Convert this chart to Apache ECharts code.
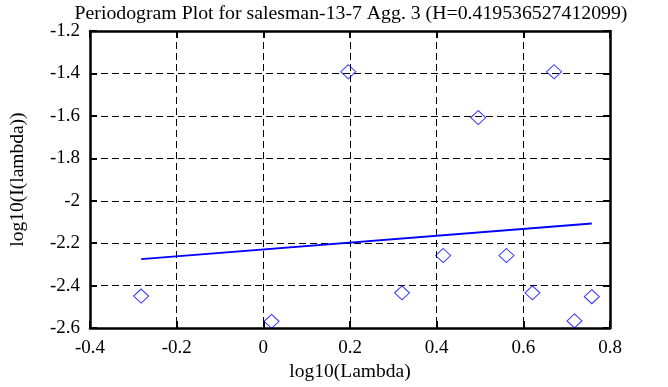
<!DOCTYPE html>
<html>
<head>
<meta charset="utf-8">
<script src="https://cdn.jsdelivr.net/npm/echarts@6/dist/echarts.min.js"></script>
<style>
html,body{margin:0;padding:0;background:#fff;}
#chart{width:668px;height:387px;}
</style>
</head>
<body>
<div id="chart"></div>
<script>
var titleText = 'Periodogram Plot for salesman-13-7 Agg. 3 (H=0.419536527412099)';
var xName = 'log10(Lambda)';
var yName = 'log10(I(lambda))';
var lambdaX = [-0.282, 0.019, 0.196, 0.320, 0.415, 0.496, 0.561, 0.621, 0.671, 0.718, 0.758];
var periodY = [-2.449, -2.568, -1.392, -2.434, -2.258, -1.608, -2.258, -2.434, -1.392, -2.566, -2.452];
var fitX = [-0.282, 0.758];
var fitY = [-2.275, -2.107];

var FONT = '"Liberation Serif", "DejaVu Serif", serif';
var chart = echarts.init(document.getElementById('chart'), null, {renderer: 'canvas'});

function axisCommon(showLabel, showGrid) {
  return {
    axisLine: {show: true, onZero: false, lineStyle: {color: '#000', width: 2.5}},
    axisTick: {show: true, inside: true, length: 7, lineStyle: {color: '#000', width: 2}},
    axisLabel: {show: showLabel, color: '#000', fontFamily: FONT, fontSize: 19, margin: 10},
    splitLine: {show: showGrid, lineStyle: {color: '#000', width: 1, type: [7, 4]}}
  };
}

var xBottom = Object.assign({type: 'value', position: 'bottom', min: -0.4, max: 0.8, interval: 0.2,
  name: xName, nameLocation: 'middle', nameGap: 32,
  nameTextStyle: {color: '#000', fontFamily: FONT, fontSize: 19.5}}, axisCommon(true, true));
var xTop = Object.assign({type: 'value', position: 'top', min: -0.4, max: 0.8, interval: 0.2}, axisCommon(false, false));
var yLeft = Object.assign({type: 'value', position: 'left', min: -2.6, max: -1.2, interval: 0.2,
  name: yName, nameLocation: 'middle', nameGap: 62,
  nameTextStyle: {color: '#000', fontFamily: FONT, fontSize: 19.5}}, axisCommon(true, true));
var yRight = Object.assign({type: 'value', position: 'right', min: -2.6, max: -1.2, interval: 0.2}, axisCommon(false, false));

var pts = lambdaX.map(function (x, i) { return [x, periodY[i]]; });
var fit = fitX.map(function (x, i) { return [x, fitY[i]]; });

chart.setOption({
  animation: false,
  backgroundColor: '#fff',
  title: {text: titleText, left: 346, textAlign: 'center', top: -1,
    textStyle: {color: '#000', fontFamily: FONT, fontSize: 19.8, fontWeight: 'normal'}},
  grid: {left: 82, right: 58, top: 31, bottom: 57, containLabel: false},
  xAxis: [xBottom, xTop],
  yAxis: [yLeft, yRight],
  series: [
    {type: 'line', data: fit, xAxisIndex: 0, yAxisIndex: 0, showSymbol: false, symbol: 'none',
      lineStyle: {color: '#0000ff', width: 1.8}, z: 3},
    {type: 'scatter', data: pts, xAxisIndex: 0, yAxisIndex: 0, symbol: 'diamond', symbolSize: [15, 14],
      itemStyle: {color: 'rgba(0,0,0,0)', borderColor: '#0000ff', borderWidth: 1}, z: 4}
  ]
});
</script>
</body>
</html>
